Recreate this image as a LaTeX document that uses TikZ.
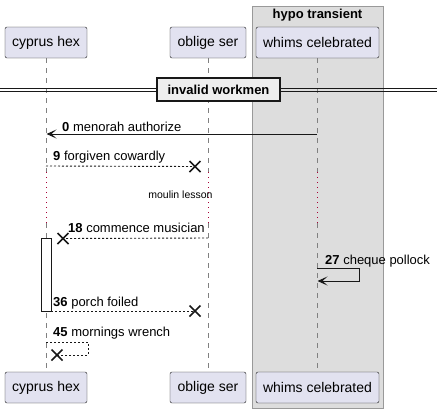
\documentclass[tikz,border=0pt]{standalone}
\usepackage{fontspec}
\setmainfont{Liberation Sans}
\usetikzlibrary{arrows.meta,calc}
\definecolor{partfill}{HTML}{E2E2F0}
\definecolor{partline}{HTML}{181818}
\definecolor{boxfill}{HTML}{DDDDDD}
\definecolor{boxline}{HTML}{999999}
\definecolor{delaycol}{HTML}{A80036}
\definecolor{divfill}{HTML}{EEEEEE}
\definecolor{lifecol}{HTML}{808080}
\tikzset{
  part/.style={draw=partline, fill=partfill, rounded corners=2pt, minimum height=31pt, inner sep=0pt, font=\fontsize{14}{16}\selectfont},
  lifeline/.style={draw=lifecol, dash pattern=on 5pt off 5pt, line width=0.8pt},
  delayline/.style={draw=delaycol, dash pattern=on 1pt off 4pt, line width=1pt},
  msglabel/.style={anchor=base west, inner sep=0pt, font=\fontsize{13}{15}\selectfont},
  syncmsg/.style={draw=partline, line width=0.9pt, -{Stealth[length=10pt,width=9pt,inset=5pt]}},
  retmsg/.style={draw=partline, line width=0.9pt, dash pattern=on 2pt off 2pt},
  xmark/.style={draw=partline, line width=1.6pt},
}
\begin{document}
\begin{tikzpicture}[x=1pt,y=-1pt]
\useasboundingbox (0,0) rectangle (442,413);
% group box
\draw[fill=boxfill, draw=boxline, line width=1pt] (252,6) rectangle (383,408);
\node[font=\bfseries\fontsize{13}{15}\selectfont, inner sep=0pt] (boxtitle) at (317.5,15) {hypo transient};
% participants
\node[part, minimum width=82pt] (cyp) at (46,42.5) {cyprus hex};
\node[part, minimum width=76pt] (obl) at (208,42.5) {oblige ser};
\node[part, minimum width=123pt] (whi) at (317.5,42.5) {whims celebrated};
\node[part, minimum width=82pt] (cypb) at (46,387.5) {cyprus hex};
\node[part, minimum width=76pt] (oblb) at (208,387.5) {oblige ser};
\node[part, minimum width=123pt] (whib) at (317.5,387.5) {whims celebrated};
% delay coordinates
\coordinate (cypd1) at (46,172); \coordinate (cypd2) at (46,223);
\coordinate (obld1) at (208,172); \coordinate (obld2) at (208,223);
\coordinate (whid1) at (317,172); \coordinate (whid2) at (317,223);
% lifelines
\draw[lifeline] (cyp.south) -- (cypd1);
\draw[lifeline] (cypd2) -- (cypb.north);
\draw[lifeline] (obl.south) -- (obld1);
\draw[lifeline] (obld2) -- (oblb.north);
\draw[lifeline] (317,58) -- (whid1);
\draw[lifeline] (whid2) -- (317,372);
\draw[delayline] (cypd1) -- (cypd2);
\draw[delayline] (obld1) -- (obld2);
\draw[delayline] (whid1) -- (whid2);
\node[inner sep=0pt, font=\fontsize{10.5}{12}\selectfont] (delaytxt) at (180.5,195) {moulin lesson};
% divider
\coordinate (divL1) at (0,88.5); \coordinate (divR1) at (437,88.5);
\coordinate (divL2) at (0,91.5); \coordinate (divR2) at (437,91.5);
\draw[partline, line width=0.9pt] (divL1) -- (divR1);
\draw[partline, line width=0.9pt] (divL2) -- (divR2);
\node[draw=partline, fill=divfill, line width=1.6pt, minimum width=123pt, minimum height=23pt, inner sep=0pt, font=\bfseries\fontsize{13}{15}\selectfont] (divbox) at (218.5,89.5) {invalid workmen};
% activation
\node[draw=partline, fill=white, line width=0.9pt, minimum width=10pt, minimum height=73pt, inner sep=0pt] (act) at (46,274.5) {};
% message 0
\coordinate (m0s) at (317,134); \coordinate (m0e) at (46.5,134);
\draw[syncmsg] (m0s) -- (m0e);
\node[msglabel] (l0) at (62,131) {\textbf{0} menorah authorize};
% message 9
\coordinate (m9s) at (46,166); \coordinate (x9) at (195,166.5);
\draw[retmsg] (m9s) -- (x9);
\draw[xmark] ($(x9)+(-5.5,-5.5)$) -- ($(x9)+(5.5,5.5)$) ($(x9)+(-5.5,5.5)$) -- ($(x9)+(5.5,-5.5)$);
\node[msglabel] (l9) at (53,160) {\textbf{9} forgiven cowardly};
% message 18
\coordinate (m18s) at (208,238); \coordinate (x18) at (63,238.5);
\draw[retmsg] (m18s) -- (x18);
\draw[xmark] ($(x18)+(-5.5,-5.5)$) -- ($(x18)+(5.5,5.5)$) ($(x18)+(-5.5,5.5)$) -- ($(x18)+(5.5,-5.5)$);
\node[msglabel] (l18) at (68,232.5) {\textbf{18} commence musician};
% message 27
\coordinate (m27s) at (317,268); \coordinate (m27a) at (359,268);
\coordinate (m27b) at (359,281); \coordinate (m27e) at (317.5,281);
\draw[syncmsg] (m27s) -- (m27a) -- (m27b) -- (m27e);
\node[msglabel] (l27) at (325,264) {\textbf{27} cheque pollock};
% message 36
\coordinate (m36s) at (51,311); \coordinate (x36) at (195,311);
\draw[retmsg] (m36s) -- (x36);
\draw[xmark] ($(x36)+(-5.5,-5.5)$) -- ($(x36)+(5.5,5.5)$) ($(x36)+(-5.5,5.5)$) -- ($(x36)+(5.5,-5.5)$);
\node[msglabel] (l36) at (53,306) {\textbf{36} porch foiled};
% message 45
\coordinate (m45s) at (46,342); \coordinate (m45a) at (88,342);
\coordinate (m45b) at (88,355); \coordinate (x45) at (57,355);
\draw[retmsg] (m45s) -- (m45a) -- (m45b) -- (x45);
\draw[xmark] ($(x45)+(-5.5,-5.5)$) -- ($(x45)+(5.5,5.5)$) ($(x45)+(-5.5,5.5)$) -- ($(x45)+(5.5,-5.5)$);
\node[msglabel] (l45) at (53,336.5) {\textbf{45} mornings wrench};
\end{tikzpicture}
\end{document}
